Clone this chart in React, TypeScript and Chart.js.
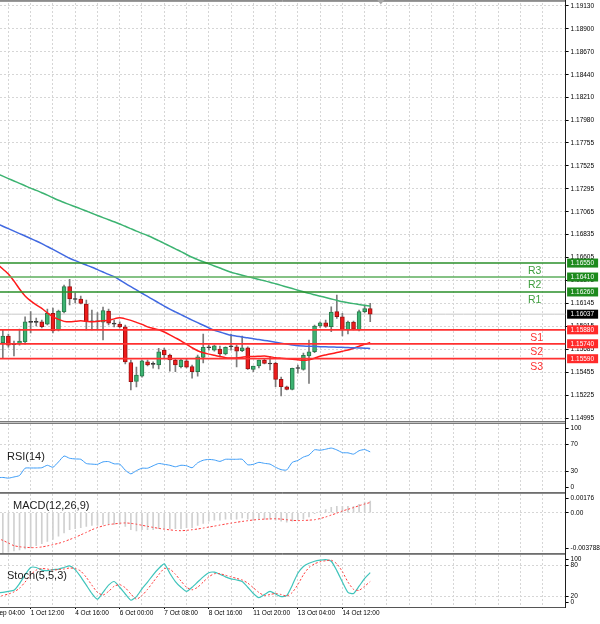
import React, { useEffect, useRef } from "react";
import { Chart, registerables } from "chart.js";

Chart.register(...registerables);

const FONT = '"Liberation Sans", Arial, sans-serif';

// ---------------- data (bar index -1 .. 66, H4 candles) ----------------
const FIRST_BAR = -1;
const OPEN = [1.1579, 1.1575, 1.15818, 1.15732, 1.15742, 1.15758, 1.15958, 1.15955, 1.15961, 1.15938, 1.16046, 1.15878, 1.16059, 1.16314, 1.16189, 1.16189, 1.16139, 1.15961, 1.15963, 1.15958, 1.16069, 1.15943, 1.15938, 1.15911, 1.15552, 1.15361, 1.15416, 1.1556, 1.15537, 1.15527, 1.15677, 1.15627, 1.15577, 1.1551, 1.1557, 1.1551, 1.15459, 1.15604, 1.157, 1.15677, 1.15687, 1.15637, 1.1571, 1.1571, 1.1567, 1.157, 1.15483, 1.15517, 1.15577, 1.15542, 1.15544, 1.15383, 1.15309, 1.15283, 1.15492, 1.15483, 1.15617, 1.1566, 1.15918, 1.15951, 1.15911, 1.16062, 1.16011, 1.15878, 1.15958, 1.15878, 1.16062, 1.16094];
const HIGH = [1.1585, 1.15878, 1.15838, 1.15768, 1.15888, 1.16011, 1.16062, 1.15998, 1.15978, 1.16089, 1.16099, 1.16079, 1.1633, 1.16387, 1.16249, 1.16219, 1.16179, 1.16079, 1.16052, 1.16109, 1.16089, 1.15978, 1.15961, 1.15928, 1.15577, 1.15507, 1.15577, 1.15577, 1.1556, 1.15694, 1.15697, 1.15637, 1.15584, 1.15587, 1.15587, 1.15527, 1.15627, 1.15838, 1.15727, 1.15727, 1.15717, 1.1571, 1.15838, 1.15727, 1.15818, 1.1571, 1.15517, 1.15577, 1.15587, 1.1561, 1.15557, 1.15406, 1.15316, 1.15497, 1.15527, 1.15647, 1.15778, 1.15928, 1.15961, 1.15978, 1.16112, 1.16229, 1.16046, 1.15968, 1.15968, 1.16079, 1.16129, 1.16146];
const LOW = [1.157, 1.15597, 1.15707, 1.15617, 1.15727, 1.15737, 1.15848, 1.15918, 1.15898, 1.15928, 1.15848, 1.15868, 1.16049, 1.16129, 1.16149, 1.16139, 1.15878, 1.15878, 1.15878, 1.15778, 1.15928, 1.15908, 1.15898, 1.15537, 1.15276, 1.15306, 1.15406, 1.15517, 1.15494, 1.15487, 1.15597, 1.15466, 1.15459, 1.15497, 1.15497, 1.15396, 1.15416, 1.15547, 1.15677, 1.15667, 1.15607, 1.15627, 1.15677, 1.15507, 1.1566, 1.15483, 1.15459, 1.15497, 1.15537, 1.15477, 1.15309, 1.15216, 1.15276, 1.15276, 1.15446, 1.15476, 1.15343, 1.1565, 1.15905, 1.15905, 1.15861, 1.15995, 1.15818, 1.15838, 1.15878, 1.15868, 1.16049, 1.15961];
const CLOSE = [1.1575, 1.15818, 1.15727, 1.15737, 1.15768, 1.15961, 1.15955, 1.15958, 1.15911, 1.16046, 1.15868, 1.16069, 1.16314, 1.16189, 1.16184, 1.16146, 1.15961, 1.15965, 1.15961, 1.16074, 1.15948, 1.15938, 1.15908, 1.15557, 1.15359, 1.15426, 1.1557, 1.15527, 1.15534, 1.1566, 1.15627, 1.15577, 1.15527, 1.15577, 1.15504, 1.15459, 1.1561, 1.15704, 1.15704, 1.1572, 1.15637, 1.15704, 1.15712, 1.15667, 1.157, 1.15487, 1.15517, 1.15577, 1.15544, 1.15537, 1.15383, 1.15309, 1.15283, 1.15494, 1.15494, 1.15624, 1.1566, 1.15918, 1.15951, 1.15915, 1.16059, 1.16011, 1.15878, 1.15958, 1.15885, 1.16062, 1.16094, 1.16037];

const MA_GREEN = [1.17446, 1.17422, 1.17398, 1.17374, 1.1735, 1.17326, 1.17302, 1.1728, 1.17256, 1.17232, 1.17205, 1.1718, 1.17158, 1.17136, 1.17115, 1.17094, 1.17072, 1.1705, 1.17028, 1.17006, 1.16984, 1.16965, 1.16942, 1.1692, 1.16895, 1.1687, 1.16848, 1.16826, 1.16802, 1.16775, 1.16748, 1.1672, 1.16692, 1.16665, 1.16636, 1.16608, 1.16585, 1.16563, 1.16542, 1.16521, 1.165, 1.16478, 1.16458, 1.16443, 1.16428, 1.16414, 1.164, 1.16386, 1.16372, 1.16358, 1.16342, 1.16326, 1.1631, 1.16294, 1.16278, 1.16262, 1.16246, 1.16232, 1.16218, 1.16204, 1.1619, 1.16176, 1.16162, 1.16152, 1.16143, 1.16134, 1.16126, 1.16119];
const MA_BLUE = [1.16944, 1.1692, 1.16895, 1.1687, 1.16846, 1.16822, 1.16797, 1.16772, 1.16745, 1.16716, 1.16687, 1.16658, 1.16628, 1.16598, 1.16574, 1.16552, 1.1653, 1.16508, 1.16484, 1.1646, 1.16436, 1.16414, 1.1638, 1.16346, 1.16313, 1.1628, 1.16247, 1.16215, 1.16183, 1.16151, 1.16118, 1.16088, 1.1606, 1.16032, 1.16005, 1.15978, 1.15952, 1.15926, 1.159, 1.15875, 1.15858, 1.15841, 1.15825, 1.15816, 1.15808, 1.158, 1.1579, 1.15782, 1.15774, 1.15765, 1.15755, 1.15746, 1.15737, 1.15728, 1.1572, 1.15717, 1.15715, 1.15713, 1.15711, 1.15709, 1.15708, 1.15706, 1.15704, 1.15702, 1.157, 1.15698, 1.15695, 1.15693];
const MA_RED = [1.1654, 1.1649, 1.1644, 1.1637, 1.1629, 1.1622, 1.1617, 1.1613, 1.16095, 1.1605, 1.1601, 1.15985, 1.15965, 1.1596, 1.15965, 1.1597, 1.15965, 1.1596, 1.15965, 1.1597, 1.15975, 1.1599, 1.16, 1.1599, 1.15975, 1.15955, 1.15935, 1.1591, 1.15895, 1.1588, 1.15858, 1.1583, 1.158, 1.1577, 1.15735, 1.157, 1.1567, 1.1565, 1.15636, 1.15624, 1.15612, 1.156, 1.15597, 1.15598, 1.15605, 1.15612, 1.15612, 1.15615, 1.15618, 1.1561, 1.156, 1.15595, 1.1559, 1.15585, 1.1558, 1.15574, 1.1558, 1.15595, 1.15615, 1.15628, 1.1564, 1.15652, 1.15665, 1.15677, 1.15695, 1.15715, 1.15735, 1.15753];

const RSI = [21, 21.4, 20.4, 22.1, 24.3, 35, 35.3, 35.3, 35.7, 39.3, 36.4, 44.3, 52.9, 49.6, 48.6, 48.1, 41.9, 41, 40.7, 44.3, 44.7, 41.4, 41, 32.1, 26.7, 31.4, 35, 35, 38.6, 41.9, 40.7, 39.3, 37.1, 39.3, 38.6, 35.7, 42.9, 46.7, 47.9, 47.1, 45, 48.1, 48.1, 48.1, 48.1, 40, 40.7, 43.6, 42.1, 41, 36.4, 32.9, 32.4, 43.6, 46.4, 51.4, 54.3, 62.1, 61.4, 62.9, 64.6, 61.9, 57.9, 57.6, 55.7, 60.7, 62.4, 59];

const MACD_MAIN = [-0.00378, -0.00375, -0.0037, -0.0036, -0.0035, -0.0034, -0.0033, -0.0031, -0.0029, -0.0027, -0.0025, -0.0022, -0.0019, -0.0016, -0.0015, -0.0014, -0.0013, -0.0012, -0.0012, -0.0011, -0.0011, -0.0011, -0.0011, -0.0013, -0.0016, -0.0017, -0.0016, -0.0016, -0.0016, -0.0015, -0.0015, -0.0015, -0.0015, -0.0015, -0.0014, -0.0014, -0.0012, -0.001, -0.0008, -0.0007, -0.0007, -0.0006, -0.0006, -0.0006, -0.0005, -0.0006, -0.0007, -0.0006, -0.0006, -0.0006, -0.0007, -0.0008, -0.0009, -0.0008, -0.0007, -0.0006, -0.0004, -0.0001, 0.0001, 0.0003, 0.0005, 0.0006, 0.0006, 0.0006, 0.0006, 0.0008, 0.001, 0.0011];
const MACD_SIGNAL = [-0.0024, -0.0026, -0.00285, -0.0031, -0.0032, -0.00325, -0.00328, -0.00328, -0.00322, -0.00312, -0.003, -0.00288, -0.00272, -0.00252, -0.00232, -0.00208, -0.00185, -0.0016, -0.0014, -0.00124, -0.00112, -0.00105, -0.00099, -0.00096, -0.001, -0.00108, -0.00118, -0.00128, -0.00138, -0.00147, -0.00155, -0.00161, -0.00167, -0.00169, -0.00166, -0.0016, -0.00153, -0.00144, -0.00135, -0.00126, -0.00116, -0.00107, -0.00098, -0.0009, -0.00082, -0.00075, -0.00068, -0.00064, -0.0006, -0.00058, -0.00057, -0.0006, -0.00066, -0.00072, -0.00074, -0.00073, -0.0007, -0.00066, -0.00055, -0.0004, -0.00022, -0.00004, 0.00016, 0.00032, 0.00048, 0.00066, 0.00082, 0.00096];

const STOCH_MAIN = [27, 28, 30, 32, 45, 62, 76, 76, 71, 70, 72, 73, 76, 79, 72, 58, 42, 26, 15, 28, 42, 49, 38, 25, 13, 20, 35, 48, 62, 74, 83, 65, 49, 38, 30, 38, 48, 58, 66, 67, 63, 58, 54, 52, 49, 38, 26, 18, 24, 30, 25, 20, 22, 42, 65, 78, 84, 88, 90, 91, 88, 70, 48, 28, 26, 40, 55, 66];
const STOCH_SIGNAL = [20, 22, 25, 29, 36, 48, 62, 71, 74, 73, 71, 72, 73, 75, 74, 69, 57, 42, 28, 23, 30, 40, 43, 37, 25, 15, 22, 34, 48, 62, 74, 73, 63, 50, 38, 33, 38, 48, 58, 64, 64, 61, 58, 55, 52, 46, 37, 28, 22, 24, 26, 24, 21, 28, 43, 62, 76, 83, 87, 89, 90, 83, 68, 48, 34, 32, 40, 49];

const PRICE_TICKS = [1.1913, 1.189, 1.1867, 1.1844, 1.1821, 1.1798, 1.17755, 1.17525, 1.17295, 1.17065, 1.16835, 1.16605, 1.16375, 1.16145, 1.15915, 1.15685, 1.15455, 1.15225, 1.14995];
const RESISTANCE_LEVELS = [1.1626, 1.1641, 1.1655];
const RESISTANCE_NAMES = ["R1", "R2", "R3"];
const SUPPORT_LEVELS = [1.1588, 1.1574, 1.1559];
const SUPPORT_NAMES = ["S1", "S2", "S3"];
const BID = CLOSE[CLOSE.length - 1];

const RSI_TICKS = [100, 70, 30, 0];
const RSI_GRID = [70, 30];
const MACD_TICKS = [0.00176, 0, -0.003788];
const MACD_TICK_LABELS = ["0.00176", "0.00", "-0.003788"];
const MACD_GRID = [0];
const STOCH_TICKS = [100, 80, 20, 0];
const STOCH_GRID = [80, 20];

const TIME_LABEL_BARS = [-3, 5, 13, 21, 29, 37, 45, 53, 61];
const TIME_LABELS = ["30 Sep 04:00", "1 Oct 12:00", "4 Oct 16:00", "6 Oct 00:00", "7 Oct 08:00", "8 Oct 16:00", "11 Oct 20:00", "13 Oct 04:00", "14 Oct 12:00"];

// ---------------- layout / style ----------------
const W = 600;
const AXIS_W = 34.4;
const X_MIN = -0.508;
const X_MAX = 101.1;
const GRID_STEP = 4;
const MAIN_MIN = 1.14965;
const MAIN_MAX = 1.1916;
const X_AXIS_H = 17;
const EDGE_INSET_PX = 4.5;
const GRID_COLOR = "#d6d6d6";
const GRID_DASH = [2, 2];
const AXIS_COLOR = "#1e1e1e";
const TICK_FONT = { family: FONT, size: 6.5 };
const UP = "#3cb371";
const UP_EDGE = "#2a7a4c";
const DOWN = "#ee1c1c";
const DOWN_EDGE = "#9c1212";
const DOJI = "#333333";
const DOJI_EPS = 0.00008;
const R_COLOR = "#2a8f2a";
const S_COLOR = "#ff3030";

const PANES = {
  main: { top: 0, height: 421, padTop: 3, padBottom: 0 },
  rsi: { top: 421, height: 72, padTop: 3, padBottom: 1 },
  macd: { top: 492, height: 62, padTop: 2, padBottom: 1 },
  stoch: { top: 553, height: 71, padTop: 2, padBottom: 0 },
};

const pts = (vals: number[]) => vals.map((v, k) => ({ x: FIRST_BAR + k, y: v }));
const hline = (v: number) => [{ x: X_MIN, y: v }, { x: X_MAX, y: v }];

// ---------------- plugins ----------------
const paneFrame = {
  id: "paneFrame",
  afterDraw(chart: any, _a: any, opts: any) {
    const { ctx, chartArea } = chart;
    ctx.save();
    ctx.lineWidth = 1;
    (opts.lines || []).forEach((l: any) => {
      ctx.strokeStyle = l.color;
      ctx.beginPath();
      ctx.moveTo(0, l.y);
      ctx.lineTo(chartArea.right, l.y);
      ctx.stroke();
    });
    const ax = Math.round(chartArea.right - 0.5) + 0.5;
    ctx.strokeStyle = AXIS_COLOR;
    ctx.beginPath();
    ctx.moveTo(ax, 0);
    ctx.lineTo(ax, chartArea.top);
    ctx.stroke();
    ctx.restore();
  },
};

const paneTitle = {
  id: "paneTitle",
  afterDraw(chart: any, _a: any, opts: any) {
    if (!opts.text) return;
    const { ctx, chartArea } = chart;
    ctx.save();
    ctx.font = `11px ${FONT}`;
    ctx.fillStyle = "#1a1a1a";
    ctx.textAlign = "left";
    ctx.textBaseline = "middle";
    ctx.fillText(opts.text, chartArea.left + opts.dx, chartArea.top + opts.dy);
    ctx.restore();
  },
};

const levelMarks = {
  id: "levelMarks",
  afterDraw(chart: any) {
    const { ctx, chartArea } = chart;
    const y = chart.scales.y;
    const x = chart.scales.x;
    ctx.save();
    ctx.font = `10.5px ${FONT}`;
    ctx.textAlign = "center";
    ctx.textBaseline = "middle";
    RESISTANCE_LEVELS.forEach((v, k) => {
      ctx.fillStyle = "#3f9f3f";
      ctx.fillText(RESISTANCE_NAMES[k], chartArea.right - 31, y.getPixelForValue(v) + 8.5);
    });
    SUPPORT_LEVELS.forEach((v, k) => {
      ctx.fillStyle = S_COLOR;
      ctx.fillText(SUPPORT_NAMES[k], chartArea.right - 29, y.getPixelForValue(v) + 8);
    });
    const tags = [
      ...RESISTANCE_LEVELS.map((v) => ({ v, bg: "#1d8a1d" })),
      ...SUPPORT_LEVELS.map((v) => ({ v, bg: "#ff2a2a" })),
      { v: BID, bg: "#000000" },
    ];
    ctx.font = `6.5px ${FONT}`;
    ctx.textAlign = "left";
    tags.forEach((t) => {
      const py = y.getPixelForValue(t.v);
      ctx.fillStyle = t.bg;
      ctx.fillRect(chartArea.right + 1.5, py - 4.5, 31, 9);
      ctx.fillStyle = "#ffffff";
      ctx.fillText(t.v.toFixed(5), chartArea.right + 5, py + 0.5);
    });
    const mx = x.getPixelForValue(FIRST_BAR + CLOSE.length + 0.9);
    ctx.fillStyle = "#a8a8a8";
    ctx.beginPath();
    ctx.moveTo(mx - 3.5, 0);
    ctx.lineTo(mx + 3.5, 0);
    ctx.lineTo(mx, 4.5);
    ctx.closePath();
    ctx.fill();
    ctx.restore();
  },
};

// ---------------- scales ----------------
function xScale(showLabels: boolean) {
  return {
    type: "linear",
    min: X_MIN,
    max: X_MAX,
    bounds: "data",
    offset: false,
    afterBuildTicks: (s: any) => {
      const t: any[] = [];
      for (let b = TIME_LABEL_BARS[0]; b <= X_MAX; b += GRID_STEP) t.push({ value: b });
      s.ticks = t;
    },
    afterFit: (s: any) => {
      s.paddingLeft = 0;
      s.paddingRight = 0;
      s.height = showLabels ? X_AXIS_H : 0;
    },
    ticks: {
      display: showLabels,
      autoSkip: false,
      maxRotation: 0,
      minRotation: 0,
      align: "start",
      padding: 0,
      font: TICK_FONT,
      color: "#000",
      callback: (v: number) => {
        const k = TIME_LABEL_BARS.indexOf(v);
        return k >= 0 ? TIME_LABELS[k] : "";
      },
    },
    grid: {
      display: true,
      offset: false,
      color: GRID_COLOR,
      lineWidth: 1,
      drawTicks: showLabels,
      tickLength: 2,
      tickColor: (c: any) => (c.tick && TIME_LABEL_BARS.includes(c.tick.value) ? "#000" : "rgba(0,0,0,0)"),
    },
    border: { display: showLabels, color: "#555", width: 1, dash: GRID_DASH },
  };
}

function yScale(min: number, max: number, tickValues: number[], labels: (v: number, i: number) => string, gridLevels: number[] | null, inset: boolean) {
  return {
    type: "linear",
    position: "right",
    min,
    max,
    bounds: "data",
    afterBuildTicks: (s: any) => {
      const h = s.height || 1;
      const d = inset ? (EDGE_INSET_PX * (max - min)) / h : 0;
      s.ticks = tickValues.map((v) => ({ value: v >= max ? v - d : v <= min ? v + d : v }));
    },
    afterFit: (s: any) => {
      s.width = AXIS_W;
      s.paddingTop = 0;
      s.paddingBottom = 0;
    },
    ticks: {
      autoSkip: false,
      padding: 2,
      font: TICK_FONT,
      color: "#000",
      callback: (v: number, i: number) => labels(v, i),
    },
    grid: {
      color: (c: any) => (!gridLevels || (c.tick && gridLevels.includes(c.tick.value)) ? GRID_COLOR : "rgba(0,0,0,0)"),
      lineWidth: 1,
      drawTicks: true,
      tickLength: 3,
      tickColor: "#000",
      tickWidth: 1,
    },
    border: { display: true, color: AXIS_COLOR, width: 1, dash: GRID_DASH },
  };
}

function baseOptions(pane: any, scales: any, pluginOpts: any) {
  return {
    responsive: false,
    animation: false,
    events: [],
    layout: { padding: { top: pane.padTop, bottom: pane.padBottom, left: 0, right: 0 } },
    plugins: { legend: { display: false }, tooltip: { enabled: false }, ...pluginOpts },
    scales,
  };
}

const lineDs = (data: any[], color: string, width: number, order: number, dash: number[] = []) => ({
  type: "line",
  data,
  borderColor: color,
  borderWidth: width,
  borderDash: dash,
  pointRadius: 0,
  tension: 0.2,
  fill: false,
  order,
});

function mainConfig(): any {
  const bodyColor = (c: any) => {
    const k = c.dataIndex;
    if (k === undefined) return UP;
    if (Math.abs(OPEN[k] - CLOSE[k]) < DOJI_EPS) return DOJI;
    return CLOSE[k] > OPEN[k] ? UP : DOWN;
  };
  const edgeColor = (c: any) => {
    const k = c.dataIndex;
    if (k === undefined) return UP_EDGE;
    if (Math.abs(OPEN[k] - CLOSE[k]) < DOJI_EPS) return DOJI;
    return CLOSE[k] > OPEN[k] ? UP_EDGE : DOWN_EDGE;
  };
  return {
    type: "line",
    data: {
      datasets: [
        lineDs(hline(BID), "#c8c8c8", 1, 30),
        {
          type: "bar",
          data: OPEN.map((_, k) => ({ x: FIRST_BAR + k, y: [LOW[k], HIGH[k]] })),
          backgroundColor: "#7c7c7c",
          borderWidth: 0,
          barThickness: 1,
          grouped: false,
          order: 20,
        },
        {
          type: "bar",
          data: OPEN.map((_, k) => ({ x: FIRST_BAR + k, y: [OPEN[k], CLOSE[k]] })),
          backgroundColor: bodyColor,
          borderColor: edgeColor,
          borderWidth: 1,
          borderSkipped: false,
          barThickness: 4,
          minBarLength: 1,
          grouped: false,
          order: 19,
        },
        lineDs(pts(MA_GREEN), "#3cb371", 1.5, 10),
        lineDs(pts(MA_BLUE), "#4169e1", 1.5, 10),
        lineDs(pts(MA_RED), "#ff1a1a", 1.5, 10),
        ...RESISTANCE_LEVELS.map((v, k) => lineDs(hline(v), k === 1 ? "#5cae5c" : R_COLOR, 1.6, 5)),
        ...SUPPORT_LEVELS.map((v) => lineDs(hline(v), S_COLOR, 1.8, 5)),
      ],
    },
    options: baseOptions(
      PANES.main,
      {
        x: xScale(false),
        y: yScale(MAIN_MIN, MAIN_MAX, PRICE_TICKS, (v) => Number(v).toFixed(5), null, false),
      },
      { paneFrame: { lines: [{ y: 0.5, color: "#8c8c8c" }, { y: 1.5, color: "#9a9a9a" }] } }
    ),
    plugins: [paneFrame, levelMarks],
  };
}

function rsiConfig(): any {
  return {
    type: "line",
    data: { datasets: [lineDs(pts(RSI), "#3d9cf7", 1, 1)] },
    options: baseOptions(
      PANES.rsi,
      { x: xScale(false), y: yScale(0, 100, RSI_TICKS, (_v, i) => String(RSI_TICKS[i]), RSI_GRID, true) },
      {
        paneFrame: { lines: [{ y: 0.5, color: "#7a7a7a" }, { y: 1.5, color: "#c4c4c4" }, { y: 2.5, color: "#7a7a7a" }] },
        paneTitle: { text: "RSI(14)", dx: 7, dy: 33 },
      }
    ),
    plugins: [paneFrame, paneTitle],
  };
}

function macdConfig(): any {
  return {
    type: "line",
    data: {
      datasets: [
        {
          type: "bar",
          data: pts(MACD_MAIN),
          backgroundColor: "#d0d0d0",
          borderWidth: 0,
          barThickness: 1,
          grouped: false,
          order: 5,
        },
        lineDs(pts(MACD_SIGNAL), "#ff3a3a", 1, 1, [2, 2]),
      ],
    },
    options: baseOptions(
      PANES.macd,
      {
        x: xScale(false),
        y: yScale(MACD_TICKS[2], MACD_TICKS[0], MACD_TICKS, (_v, i) => MACD_TICK_LABELS[i], MACD_GRID, true),
      },
      {
        paneFrame: { lines: [{ y: 0.5, color: "#6e6e6e" }, { y: 1.5, color: "#8a8a8a" }] },
        paneTitle: { text: "MACD(12,26,9)", dx: 13, dy: 11.7 },
      }
    ),
    plugins: [paneFrame, paneTitle],
  };
}

function stochConfig(): any {
  return {
    type: "line",
    data: {
      datasets: [
        lineDs(pts(STOCH_MAIN), "#3fc4bb", 1.2, 2),
        lineDs(pts(STOCH_SIGNAL), "#ff3a3a", 1, 1, [2, 2]),
      ],
    },
    options: baseOptions(
      PANES.stoch,
      { x: xScale(true), y: yScale(0, 100, STOCH_TICKS, (_v, i) => String(STOCH_TICKS[i]), STOCH_GRID, true) },
      {
        paneFrame: { lines: [{ y: 0.5, color: "#6e6e6e" }, { y: 1.5, color: "#8a8a8a" }] },
        paneTitle: { text: "Stoch(5,5,3)", dx: 7, dy: 21 },
      }
    ),
    plugins: [paneFrame, paneTitle],
  };
}

export default function App() {
  const mainRef = useRef<HTMLCanvasElement | null>(null);
  const rsiRef = useRef<HTMLCanvasElement | null>(null);
  const macdRef = useRef<HTMLCanvasElement | null>(null);
  const stochRef = useRef<HTMLCanvasElement | null>(null);

  useEffect(() => {
    Chart.defaults.font.family = FONT;
    const charts: Chart[] = [];
    const pairs: [HTMLCanvasElement | null, () => any][] = [
      [mainRef.current, mainConfig],
      [rsiRef.current, rsiConfig],
      [macdRef.current, macdConfig],
      [stochRef.current, stochConfig],
    ];
    pairs.forEach(([cv, cfg]) => {
      if (cv) charts.push(new Chart(cv, cfg()));
    });
    return () => charts.forEach((c) => c.destroy());
  }, []);

  const cStyle = (p: any): React.CSSProperties => ({
    position: "absolute",
    left: 0,
    top: p.top,
    width: W,
    height: p.height,
    display: "block",
  });

  return (
    <div style={{ position: "absolute", left: 0, top: 0, width: W, height: 624, background: "#ffffff", overflow: "hidden" }}>
      <canvas ref={mainRef} width={W} height={PANES.main.height} style={cStyle(PANES.main)} />
      <canvas ref={rsiRef} width={W} height={PANES.rsi.height} style={cStyle(PANES.rsi)} />
      <canvas ref={macdRef} width={W} height={PANES.macd.height} style={cStyle(PANES.macd)} />
      <canvas ref={stochRef} width={W} height={PANES.stoch.height} style={cStyle(PANES.stoch)} />
    </div>
  );
}
